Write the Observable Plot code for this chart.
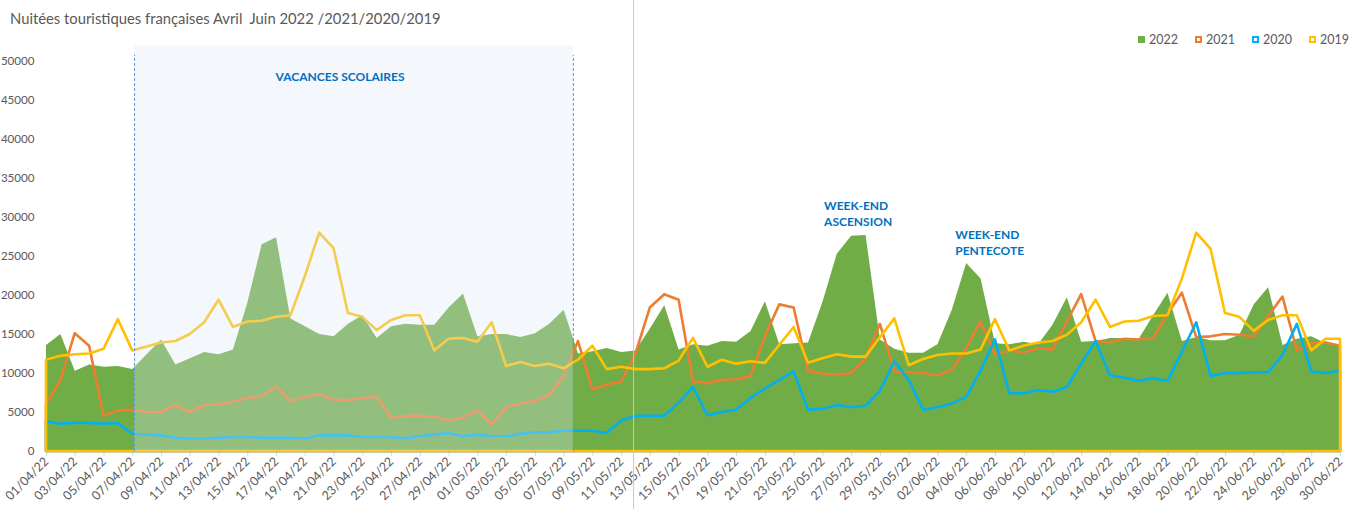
<!DOCTYPE html>
<html>
<head>
<meta charset="utf-8">
<script src="https://cdn.jsdelivr.net/npm/d3@7"></script>
<script src="https://cdn.jsdelivr.net/npm/@observablehq/plot@0.6"></script>
<style>
  html, body { margin: 0; padding: 0; background: #fff; }
  #wrap { position: relative; width: 1360px; height: 509px; overflow: hidden; font-family: Lato, "Liberation Sans", sans-serif; }
  #title { position: absolute; left: 10px; top: 9px; font-size: 14.8px; color: #595959; white-space: pre; }
  #legend { position: absolute; left: 1138px; top: 32px; display: flex; font-size: 12.5px; color: #595959; }
  #legend .item { display: flex; align-items: center; margin-right: 17px; }
  #legend .sw { width: 7px; height: 7px; margin-right: 4px; box-sizing: border-box; }
  #chart { position: absolute; left: 0; top: 0; }
</style>
</head>
<body>
<div id="wrap">
  <div id="chart"></div>
  <div id="title"></div>
  <div id="legend"></div>
</div>
<script>
const titleText = "Nuitées touristiques françaises Avril  Juin 2022 /2021/2020/2019";
const startDate = "2022-04-01";
const endDate = "2022-06-30";
const seriesNames = ["2022", "2021", "2020", "2019"];
const seriesColors = ["#70AD47", "#ED7D31", "#00B0F0", "#FFC000"];
const yTicks = [0, 5000, 10000, 15000, 20000, 25000, 30000, 35000, 40000, 45000, 50000];

const v2022 = [13600,15000,10300,11100,10800,10900,10500,12400,14300,11100,
  11900,12700,12400,13000,19000,26500,27400,17000,16000,15000,
  14700,16300,17400,14500,16000,16300,16200,16200,18400,20200,
  14700,15000,15000,14600,15100,16300,18100,12500,12800,13200,
  12700,12900,15700,18700,13000,13700,13500,14100,14000,15400,
  19200,13700,13800,13900,19100,25300,27600,27700,14300,13100,
  12600,12600,13700,18100,24100,22100,13800,13700,14000,13700,
  16200,19700,14000,14100,14500,14500,14400,17400,20300,14100,
  14600,14200,14200,14900,18800,21000,13600,14400,14700,13800,13500];
const v2021 = [6000,9100,15100,13500,4500,5200,5300,5000,5000,5900,
  5000,5900,6000,6300,6800,7000,8300,6400,6900,7300,
  6600,6500,6800,7000,4300,4500,4500,4400,3900,4300,
  5200,3400,5600,6100,6400,7200,9600,14100,7900,8500,
  8900,12500,18400,20100,19400,8900,8700,9100,9200,9600,
  14700,18800,18400,10300,9900,9800,10000,11900,16300,10200,
  10100,10000,9700,10400,13200,16600,12300,12900,12600,13200,
  13000,16600,20100,14100,13900,14400,14300,14500,17600,20300,
  14600,14700,15000,14900,14700,17300,19800,12900,13800,13900,13500];
const v2020 = [3800,3500,3600,3600,3500,3600,2200,2100,2000,1700,
  1600,1600,1700,1800,1800,1700,1700,1700,1600,2000,
  2000,2000,1800,1800,1800,1600,1900,2100,2300,1900,
  2100,1900,1900,2200,2400,2400,2600,2600,2600,2300,
  3900,4500,4500,4500,6200,8200,4600,5000,5300,6800,
  8000,9100,10200,5300,5400,5900,5600,5800,7700,11500,
  9100,5300,5600,6100,6900,10300,14300,7400,7400,7800,
  7600,8200,11200,14100,9700,9400,9000,9300,9000,12700,
  16500,9600,10000,10000,10100,10100,12300,16300,10200,10000,10300];
const v2019 = [11700,12200,12400,12500,13100,16900,12900,13400,13900,14100,
  15000,16500,19400,15900,16600,16700,17200,17400,22400,28000,
  26000,17700,17200,15500,16800,17400,17400,12900,14400,14500,
  14000,16500,10900,11400,10900,11200,10600,11700,13500,10500,
  10800,10500,10500,10600,11600,14500,10800,11700,11200,11500,
  11300,13600,15900,11300,11900,12400,12100,12100,14600,17000,
  11000,11800,12300,12500,12500,13000,16900,12900,13500,13900,
  14100,14900,16500,19400,15900,16600,16700,17300,17400,22100,
  28000,25900,17700,17200,15400,16800,17400,17400,12900,14400,14400];

const vacancesLabel = "VACANCES SCOLAIRES";
const vacancesBand = ["2022-04-07T03:00Z", "2022-05-07T15:30Z"];
const vacancesTop = 52000;
const vacancesLabelPos = ["2022-04-21T10:00Z", 48000];
const notes = [
  {label: "WEEK-END\nASCENSION", date: "2022-05-25T02:00Z", value: 30600},
  {label: "WEEK-END\nPENTECOTE", date: "2022-06-03T05:00Z", value: 26900}
];
const dividerDate = "2022-05-11T20:00Z";
const dividerSpan = [-7500, 58000];

// build table
const dates = d3.utcDay.range(new Date(startDate), d3.utcDay.offset(new Date(endDate), 1));
const rows = dates.map((d, i) => ({date: d, v2022: v2022[i], v2021: v2021[i], v2020: v2020[i], v2019: v2019[i]}));
const tickDates = dates.filter((d, i) => i % 2 === 0);
const fmt = d3.utcFormat("%d/%m/%y");

document.getElementById("title").textContent = titleText;
const legend = document.getElementById("legend");
seriesNames.forEach((n, i) => {
  const it = document.createElement("div");
  it.className = "item";
  const sw = document.createElement("span");
  sw.className = "sw";
  if (i === 0) sw.style.background = seriesColors[i];
  else sw.style.border = "2px solid " + seriesColors[i];
  const t = document.createElement("span");
  t.textContent = n;
  it.append(sw, t);
  legend.append(it);
});

const band = [{x1: new Date(vacancesBand[0]), x2: new Date(vacancesBand[1])}];

const chart = Plot.plot({
  width: 1360,
  height: 509,
  marginTop: 61,
  marginBottom: 58,
  marginLeft: 46,
  marginRight: 20,
  style: {fontFamily: "Lato, 'Liberation Sans', sans-serif", fontSize: "12.5px", color: "#595959", background: "transparent"},
  x: {type: "utc", domain: [dates[0], dates[dates.length - 1]]},
  y: {domain: [0, 50000]},
  marks: [
    Plot.ruleY([0], {stroke: "#d9d9d9"}),
    Plot.axisY({ticks: yTicks, tickSize: 0, tickPadding: 12, tickFormat: d => String(d), label: null, fill: "#595959", fontSize: 11.6}),
    Plot.axisX({ticks: tickDates, tickFormat: fmt, tickRotate: -45, tickSize: 5, tickPadding: 3, stroke: "#d9d9d9", fill: "#595959", label: null, fontSize: 12.5}),
    Plot.areaY(rows, {x: "date", y: "v2022", fill: seriesColors[0]}),
    Plot.areaY(rows, {x: "date", y: "v2021", fill: "none", stroke: seriesColors[1], strokeWidth: 2.6, strokeLinejoin: "round"}),
    Plot.areaY(rows, {x: "date", y: "v2020", fill: "none", stroke: seriesColors[2], strokeWidth: 2.6, strokeLinejoin: "round"}),
    Plot.areaY(rows, {x: "date", y: "v2019", fill: "none", stroke: seriesColors[3], strokeWidth: 2.6, strokeLinejoin: "round"}),
    Plot.rect(band, {x1: "x1", x2: "x2", y1: 0, y2: vacancesTop, fill: "#dde6f3", fillOpacity: 0.32}),
    Plot.ruleX([band[0].x1, band[0].x2], {y1: 0, y2: 50800, stroke: "#5B9BD5", strokeWidth: 1, strokeDasharray: "3,2"}),
    Plot.ruleX([new Date(dividerDate)], {y1: dividerSpan[0], y2: dividerSpan[1], stroke: "#F4B6AC", strokeWidth: 1}),
    Plot.text([vacancesLabel], {x: new Date(vacancesLabelPos[0]), y: vacancesLabelPos[1], text: d => d, fill: "#0070C0", fontWeight: "bold", fontSize: 12}),
    Plot.text(notes, {x: d => new Date(d.date), y: "value", text: "label", textAnchor: "start", lineAnchor: "middle", lineHeight: 1.38, fill: "#0070C0", fontWeight: "bold", fontSize: 12})
  ]
});
document.getElementById("chart").append(chart);
</script>
</body>
</html>
